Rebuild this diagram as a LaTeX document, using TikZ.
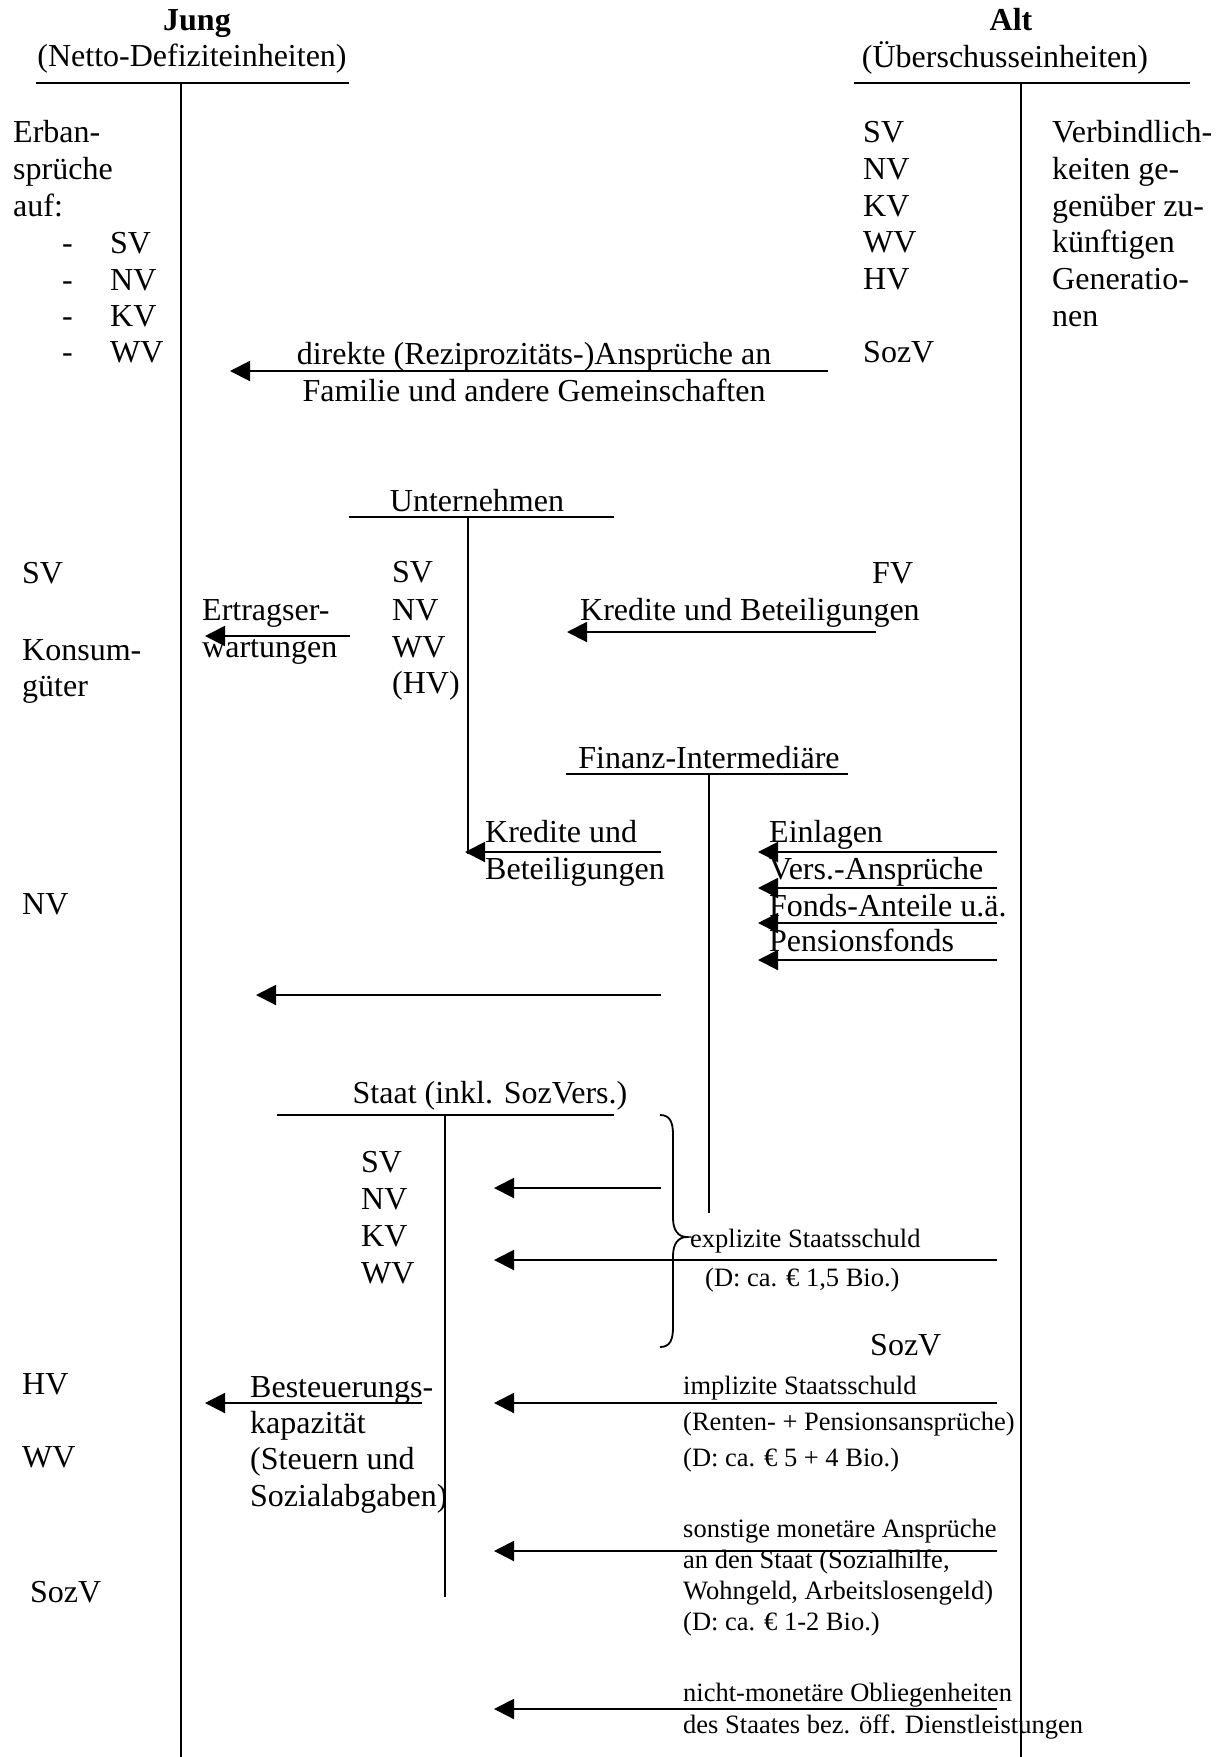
\documentclass[tikz,border=0pt]{standalone}
\usepackage{fontspec}
\setmainfont{Liberation Serif}
\usetikzlibrary{arrows.meta}
\newcommand{\fsmain}{\fontsize{32pt}{37pt}\selectfont}
\newcommand{\fssmall}{\fontsize{26.5pt}{31pt}\selectfont}
\begin{document}
\begin{tikzpicture}[x=1pt,y=-1pt,
  lbl/.style={anchor=base west, inner sep=0pt, font=\fsmain},
  slbl/.style={anchor=base west, inner sep=0pt, font=\fssmall},
  ctr/.style={anchor=base, inner sep=0pt, font=\fsmain},
  hdr/.style={anchor=base, inner sep=0pt, font=\fsmain\bfseries},
  rule/.style={line width=2pt},
  arr/.style={line width=2pt, -{Triangle[length=20pt,width=20pt]}}]
\useasboundingbox (0,0) rectangle (1226,1757);

% ---------- headers ----------
\node[hdr] (jung) at (197,30) {Jung};
\node[ctr] (jungsub) at (192,66) {(Netto-Defiziteinheiten)};
\node[hdr] (alt) at (1011,30) {Alt};
\node[ctr] (altsub) at (1005,67) {(Überschusseinheiten)};
\coordinate (jA) at (36,83); \coordinate (jB) at (349,83);
\coordinate (aA) at (854,83); \coordinate (aB) at (1190,83);
\coordinate (jT) at (181,83); \coordinate (jD) at (181,1757);
\coordinate (aT) at (1021,83); \coordinate (aD) at (1021,1757);
\draw[rule] (jA) -- (jB);
\draw[rule] (aA) -- (aB);
\draw[rule] (jT) -- (jD);
\draw[rule] (aT) -- (aD);

% ---------- left column top ----------
\node[lbl] (e1) at (13,142) {Erban-};
\node[lbl] (e2) at (13,179) {sprüche};
\node[lbl] (e3) at (13,216) {auf:};
\node[lbl] (d1) at (62,253) {-};
\node[lbl] (d2) at (62,290) {-};
\node[lbl] (d3) at (62,326) {-};
\node[lbl] (d4) at (62,362) {-};
\node[lbl] (e4) at (110,253) {SV};
\node[lbl] (e5) at (110,290) {NV};
\node[lbl] (e6) at (110,326) {KV};
\node[lbl] (e7) at (110,362) {WV};

% ---------- right column top ----------
\node[lbl] (r1) at (863,142) {SV};
\node[lbl] (r2) at (863,179) {NV};
\node[lbl] (r3) at (863,216) {KV};
\node[lbl] (r4) at (863,252) {WV};
\node[lbl] (r5) at (863,289) {HV};
\node[lbl] (r6) at (863,362) {SozV};
\node[lbl] (v1) at (1052,142) {Verbindlich-};
\node[lbl] (v2) at (1052,179) {keiten ge-};
\node[lbl] (v3) at (1052,216) {genüber zu-};
\node[lbl] (v4) at (1052,252) {künftigen};
\node[lbl] (v5) at (1052,289) {Generatio-};
\node[lbl] (v6) at (1052,326) {nen};

% ---------- direkte Ansprueche ----------
\coordinate (dirR) at (828,371); \coordinate (dirL) at (230,371);
\draw[arr] (dirR) -- (dirL);
\node[ctr] (dir1) at (534,364) {direkte (Reziprozitäts-)Ansprüche an};
\node[ctr] (dir2) at (534,401) {Familie und andere Gemeinschaften};

% ---------- Unternehmen ----------
\node[ctr] (unt) at (477,511) {Unternehmen};
\coordinate (uA) at (349,517); \coordinate (uB) at (614,517);
\coordinate (uT) at (468,517); \coordinate (uD) at (468,854);
\draw[rule] (uA) -- (uB);
\draw[rule] (uT) -- (uD);
\node[lbl] (l1) at (22,583) {SV};
\node[lbl] (l2) at (22,660) {Konsum-};
\node[lbl] (l3) at (22,696) {güter};
\node[lbl] (u1) at (392,582) {SV};
\node[lbl] (u2) at (392,620) {NV};
\node[lbl] (u3) at (392,657) {WV};
\node[lbl] (u4) at (392,693) {(HV)};
\node[lbl] (ert1) at (202,620) {Ertragser-};
\node[lbl] (ert2) at (202,657) {wartungen};
\coordinate (ertR) at (350,636); \coordinate (ertL) at (205,636);
\draw[arr] (ertR) -- (ertL);
\node[lbl] (fv) at (872,583) {FV};
\node[lbl] (kb) at (580,620) {Kredite und Beteiligungen};
\coordinate (kbR) at (876,632); \coordinate (kbL) at (567,632);
\draw[arr] (kbR) -- (kbL);

% ---------- Finanz-Intermediaere ----------
\node[ctr] (fin) at (709,768) {Finanz-Intermediäre};
\coordinate (fA) at (566,774); \coordinate (fB) at (848,774);
\coordinate (fT) at (709,774); \coordinate (fD) at (709,1213);
\draw[rule] (fA) -- (fB);
\draw[rule] (fT) -- (fD);
\node[lbl] (k1) at (485,842) {Kredite und};
\node[lbl] (k2) at (485,879) {Beteiligungen};
\coordinate (k2R) at (661,852); \coordinate (k2L) at (465,852);
\draw[arr] (k2R) -- (k2L);
\node[lbl] (ein1) at (769,842) {Einlagen};
\node[lbl] (ein2) at (769,879) {Vers.-Ansprüche};
\node[lbl] (ein3) at (769,916) {Fonds-Anteile u.ä.};
\node[lbl] (ein4) at (769,951) {Pensionsfonds};
\coordinate (ea1) at (997,852); \coordinate (eb1) at (758,852);
\coordinate (ea2) at (997,888); \coordinate (eb2) at (758,888);
\coordinate (ea3) at (997,923); \coordinate (eb3) at (758,923);
\coordinate (ea4) at (997,960); \coordinate (eb4) at (758,960);
\draw[arr] (ea1) -- (eb1);
\draw[arr] (ea2) -- (eb2);
\draw[arr] (ea3) -- (eb3);
\draw[arr] (ea4) -- (eb4);
\node[lbl] (lnv) at (22,914) {NV};
\coordinate (lgR) at (661,995); \coordinate (lgL) at (256,995);
\draw[arr] (lgR) -- (lgL);

% ---------- Staat ----------
\node[ctr] (staat) at (490,1103) {Staat (inkl. SozVers.)};
\coordinate (sA) at (277,1115); \coordinate (sB) at (614,1115);
\coordinate (sT) at (445,1115); \coordinate (sD) at (445,1597);
\draw[rule] (sA) -- (sB);
\draw[rule] (sT) -- (sD);
\node[lbl] (s1) at (361,1172) {SV};
\node[lbl] (s2) at (361,1209) {NV};
\node[lbl] (s3) at (361,1246) {KV};
\node[lbl] (s4) at (361,1283) {WV};
\draw[line width=1.8pt] (660,1115) .. controls (670,1115) and (673,1122) .. (673,1135)
  -- (673,1218) .. controls (673,1230) and (678,1237) .. (687,1237)
  .. controls (678,1237) and (673,1244) .. (673,1256)
  -- (673,1327) .. controls (673,1340) and (670,1347) .. (660,1347);
\coordinate (x1R) at (661,1188); \coordinate (x1L) at (494,1188);
\draw[arr] (x1R) -- (x1L);
\coordinate (x2R) at (997,1260); \coordinate (x2L) at (494,1260);
\draw[arr] (x2R) -- (x2L);
\node[slbl] (expl1) at (690,1247) {explizite Staatsschuld};
\node[slbl] (expl2) at (705,1286) {(D: ca. € 1,5 Bio.)};
\node[lbl] (sozv) at (870,1355) {SozV};

% ---------- lower left ----------
\node[lbl] (hv) at (22,1394) {HV};
\node[lbl] (wv) at (22,1467) {WV};
\node[lbl] (lsozv) at (30,1602) {SozV};
\node[lbl] (b1) at (250,1397) {Besteuerungs-};
\node[lbl] (b2) at (250,1433) {kapazität};
\node[lbl] (b3) at (250,1469) {(Steuern und};
\node[lbl] (b4) at (250,1506) {Sozialabgaben)};
\coordinate (bR) at (422,1403); \coordinate (bL) at (205,1403);
\draw[arr] (bR) -- (bL);

% ---------- implizite ----------
\coordinate (iR) at (997,1403); \coordinate (iL) at (494,1403);
\draw[arr] (iR) -- (iL);
\node[slbl] (i1) at (683,1394) {implizite Staatsschuld};
\node[slbl] (i2) at (683,1430) {(Renten- + Pensionsansprüche)};
\node[slbl] (i3) at (683,1466) {(D: ca. € 5 + 4 Bio.)};

% ---------- sonstige ----------
\coordinate (oR) at (997,1551); \coordinate (oL) at (494,1551);
\draw[arr] (oR) -- (oL);
\node[slbl] (o1) at (683,1537) {sonstige monetäre Ansprüche};
\node[slbl] (o2) at (683,1568) {an den Staat (Sozialhilfe,};
\node[slbl] (o3) at (683,1599) {Wohngeld, Arbeitslosengeld)};
\node[slbl] (o4) at (683,1630) {(D: ca. € 1-2 Bio.)};

% ---------- nicht-monetaere ----------
\coordinate (nR) at (997,1709); \coordinate (nL) at (494,1709);
\draw[arr] (nR) -- (nL);
\node[slbl] (n1) at (683,1701) {nicht-monetäre Obliegenheiten};
\node[slbl] (n2) at (683,1733) {des Staates bez. öff. Dienstleistungen};
\end{tikzpicture}
\end{document}
